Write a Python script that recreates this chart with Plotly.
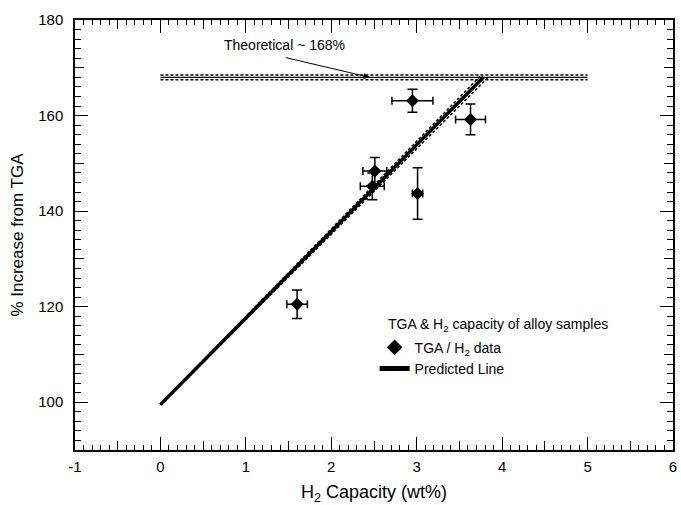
import plotly.graph_objects as go

# Data: TGA / H2 capacity measurements
h2_capacity = [1.60, 2.48, 2.51, 2.95, 3.01, 3.63]
h2_err = [0.12, 0.14, 0.14, 0.24, 0.06, 0.175]
tga_increase = [120.5, 145.2, 148.4, 163.1, 143.7, 159.2]
tga_err = [3.0, 2.8, 2.8, 2.4, 5.4, 3.2]

# Predicted line and its bounds
pred_x = [0.0, 3.78]
pred_y = [99.5, 168.0]
pred_upper_x = [0.0, 3.74]
pred_upper_y = [99.6, 168.2]
pred_lower_x = [0.0, 3.83]
pred_lower_y = [99.4, 167.9]

# Theoretical level
theo_x = [0.0, 5.0]
theo_y = 168.0
theo_band = 0.5

# Tick labels
x_tickvals = [-1, 0, 1, 2, 3, 4, 5, 6]
x_ticktext = ["-1", "0", "1", "2", "3", "4", "5", "6"]
y_tickvals = [100, 120, 140, 160, 180]
y_ticktext = ["100", "120", "140", "160", "180"]

font = "Liberation Sans, Arial, Helvetica, sans-serif"

fig = go.Figure()

# Theoretical lines
fig.add_trace(go.Scatter(x=theo_x, y=[theo_y, theo_y], mode="lines",
                         line=dict(color="black", width=1.2), showlegend=False, hoverinfo="skip"))
for off in (theo_band, -theo_band):
    fig.add_trace(go.Scatter(x=theo_x, y=[theo_y + off, theo_y + off], mode="lines",
                             line=dict(color="black", width=1.5, dash="3px,2px"),
                             showlegend=False, hoverinfo="skip"))

# Predicted band
fig.add_trace(go.Scatter(x=pred_upper_x, y=pred_upper_y, mode="lines",
                         line=dict(color="black", width=1.5, dash="3px,2px"),
                         showlegend=False, hoverinfo="skip"))
fig.add_trace(go.Scatter(x=pred_lower_x, y=pred_lower_y, mode="lines",
                         line=dict(color="black", width=1.5, dash="3px,2px"),
                         showlegend=False, hoverinfo="skip"))

# Data
fig.add_trace(go.Scatter(
    x=h2_capacity, y=tga_increase, mode="markers", name="TGA / H<sub>2</sub> data",
    marker=dict(symbol="diamond", size=10, color="black"),
    error_x=dict(type="data", array=h2_err, color="black", thickness=1.5, width=4),
    error_y=dict(type="data", array=tga_err, color="black", thickness=1.5, width=5),
))

# Predicted line
fig.add_trace(go.Scatter(x=pred_x, y=pred_y, mode="lines", name="Predicted Line",
                         line=dict(color="black", width=3.5)))

# Invisible trace to anchor overlay axes for medium ticks
fig.add_trace(go.Scatter(x=[-1], y=[90], xaxis="x2", yaxis="y2", mode="markers",
                         marker=dict(opacity=0), showlegend=False, hoverinfo="skip"))

fig.add_annotation(x=2.45, y=theo_y, ax=1.45, ay=172.2, xref="x", yref="y",
                   axref="x", ayref="y", text="", showarrow=True,
                   arrowhead=2, arrowsize=1.2, arrowwidth=1, arrowcolor="black")
fig.add_annotation(x=1.45, y=172.6, xref="x", yref="y", text="Theoretical ~ 168%",
                   showarrow=False, yanchor="bottom", xanchor="center",
                   font=dict(family=font, size=14, color="black"))
fig.add_annotation(x=2.64, y=116.2, xref="x", yref="y", xanchor="left", yanchor="middle",
                   text="TGA & H<sub>2</sub> capacity of alloy samples", showarrow=False,
                   font=dict(family=font, size=14, color="black"))

axis_common = dict(showgrid=False, zeroline=False, showline=True, linecolor="black",
                   linewidth=1.5, ticks="inside", tickcolor="black", tickwidth=1.2,
                   mirror="ticks", automargin=False)

fig.update_layout(
    width=681, height=505,
    margin=dict(l=75, r=8, t=20, b=55),
    paper_bgcolor="white", plot_bgcolor="white",
    font=dict(family=font, color="black"),
    xaxis=dict(range=[-1, 6], tickmode="array", tickvals=x_tickvals, ticktext=x_ticktext,
               ticklen=13, ticklabelstandoff=2,
               minor=dict(dtick=0.1, ticklen=5, ticks="inside", tickcolor="black", tickwidth=1),
               tickfont=dict(size=15), title=dict(text="H<sub>2</sub> Capacity (wt%)",
                                                  font=dict(size=18), standoff=12),
               **axis_common),
    yaxis=dict(range=[90, 180], tickmode="array", tickvals=y_tickvals, ticktext=y_ticktext,
               ticklen=13, ticklabelstandoff=7,
               minor=dict(dtick=2, ticklen=6, ticks="inside", tickcolor="black", tickwidth=1),
               tickfont=dict(size=15), title=dict(text="% Increase from TGA",
                                                  font=dict(size=17), standoff=10),
               **axis_common),
    xaxis2=dict(overlaying="x", range=[-1, 6], dtick=0.5, ticklen=9, showticklabels=False,
                showgrid=False, zeroline=False, showline=False, ticks="inside",
                tickcolor="black", tickwidth=1, mirror="ticks", side="bottom"),
    yaxis2=dict(overlaying="y", range=[90, 180], dtick=10, ticklen=9, showticklabels=False,
                showgrid=False, zeroline=False, showline=False, ticks="inside",
                tickcolor="black", tickwidth=1, mirror="ticks", side="left"),
    legend=dict(x=0.501, y=0.275, xanchor="left", yanchor="top",
                bgcolor="rgba(0,0,0,0)", font=dict(size=14),
                itemwidth=30, tracegroupgap=0, itemsizing="constant"),
    showlegend=True,
)

fig.write_html("out.html", config={"displayModeBar": False},
               post_script="document.body.style.margin='0';")
